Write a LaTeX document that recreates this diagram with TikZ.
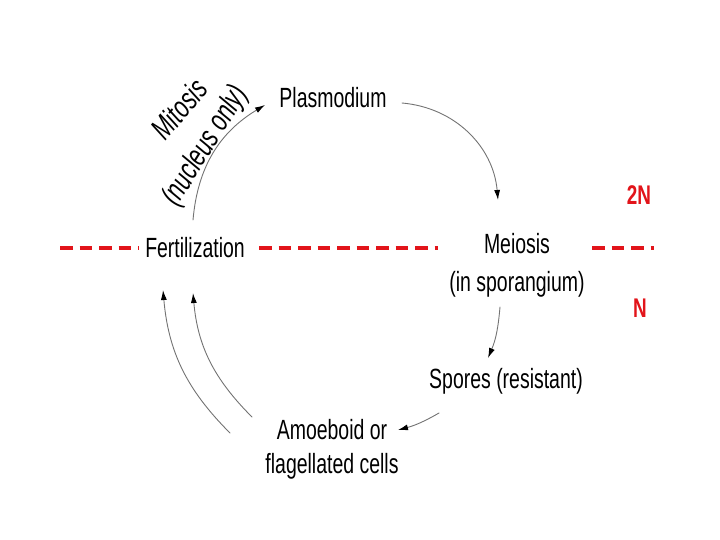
\documentclass[tikz,border=0pt]{standalone}
\usepackage{fontspec}
\setmainfont[FakeStretch=0.7]{Liberation Sans}
\usepackage[dvipsnames]{xcolor}
\usetikzlibrary{arrows,arrows.meta}
\definecolor{ploidred}{RGB}{226,20,26}

\begin{document}
\begin{tikzpicture}
    [line cap=round,line join=round,x=1pt,y=-1pt,
     stage/.style={font=\fontsize{27.8}{34}\selectfont,inner sep=2pt,align=center},
     arr/.style={-{Latex[length=10pt,width=6pt,color=black]},color=black!55,line width=0.9pt},
     ploid/.style={draw=ploidred,line width=4.5pt,line cap=butt,dash pattern=on 12.5pt off 7pt},
     plab/.style={text=ploidred,font=\fontsize{27}{30}\selectfont\bfseries}]
\useasboundingbox (0,0) rectangle (720,540);
%stages of the cycle
 \node[stage] (plas) at (333,98) {Plasmodium};
 \node[stage] (fert) at (195,248) {Fertilization};
 \node[stage,font=\fontsize{27.8}{38}\selectfont] (meio) at (517,265) {Meiosis\\(in sporangium)};
 \node[stage] (spor) at (506,381) {Spores (resistant)};
 \node[stage] (amoe) at (332,449) {Amoeboid or\\flagellated cells};
 \node[stage,font=\fontsize{31}{34}\selectfont\itshape,rotate=50] (mito) at (179,109) {Mitosis};
 \node[stage,font=\fontsize{31}{34}\selectfont\itshape,rotate=58] (nucl) at (206,146) {(nucleus only)};

%ploidy line
 \draw[ploid] (60,248) -- (139,248);
 \draw[ploid] (259,248) -- (438,248);
 \draw[ploid] (592,248) -- (654,248);
 \node[plab] (dip) at (639,195) {2N};
 \node[plab] (hap) at (640,308) {N};

%arrows
 \draw[arr] ([shift={(-2,-28)}]fert.center) to[out=85,in=211] ([shift={(-68,7)}]plas.center);
 \draw[arr] ([shift={(69,5)}]plas.center) to[out=-5,in=95] ([shift={(-19,-65)}]meio.center);
 \draw[arr] ([shift={(-17,42)}]meio.center) to[out=-95,in=67] ([shift={(-18,-23)}]spor.center);
 \draw[arr] ([shift={(-67,32)}]spor.center) to[out=210,in=15] ([shift={(66,-19)}]amoe.center);
 \draw[arr] ([shift={(-102,-16)}]amoe.center) to[out=135,in=-85] ([shift={(-32,42)}]fert.center);
 \draw[arr] ([shift={(-80,-32)}]amoe.center) to[out=135,in=-85] ([shift={(-2,45)}]fert.center);
\end{tikzpicture}
\end{document}
